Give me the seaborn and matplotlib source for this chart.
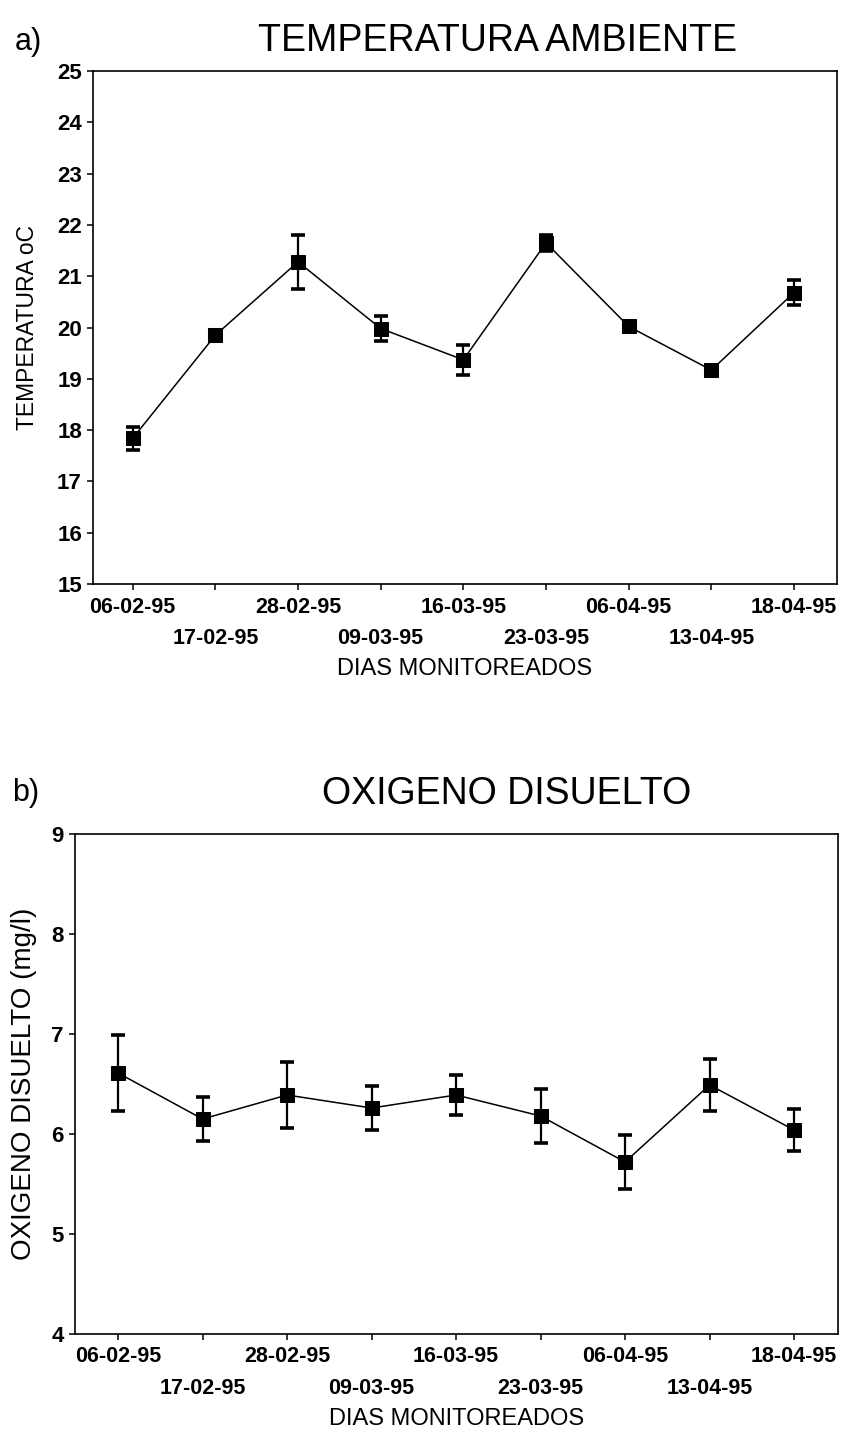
import numpy as np
import pandas as pd
import matplotlib
matplotlib.use("Agg")
import matplotlib.pyplot as plt
import seaborn as sns

# ---- data ----
dates = ["06-02-95", "17-02-95", "28-02-95", "09-03-95", "16-03-95",
         "23-03-95", "06-04-95", "13-04-95", "18-04-95"]
temp_mean = [17.84, 19.85, 21.28, 19.98, 19.37, 21.65, 20.02, 19.17, 20.68]
temp_err = [0.23, 0.05, 0.53, 0.25, 0.29, 0.15, 0.08, 0.05, 0.25]
oxy_mean = [6.61, 6.15, 6.39, 6.26, 6.39, 6.18, 5.72, 6.49, 6.04]
oxy_err = [0.38, 0.22, 0.33, 0.22, 0.20, 0.27, 0.27, 0.26, 0.21]
temp_ticks = list(range(15, 26))
oxy_ticks = list(range(4, 10))

sns.set_theme(style="ticks")
plt.rcParams['font.family'] = ['Liberation Sans', 'DejaVu Sans']

W, H = 842, 1436
fig = plt.figure(figsize=(W / 100, H / 100), dpi=100)
fig.patch.set_facecolor('white')

ax1 = fig.add_axes([93 / W, 1 - 584 / H, 744 / W, 513 / H])
ax2 = fig.add_axes([75 / W, 1 - 1334 / H, 763 / W, 500 / H])


def draw(ax, means, errs, ticks, ylabel, ylabel_size, ylabel_pad, xlim):
    df = pd.DataFrame({"idx": np.arange(len(dates)), "val": means, "err": errs})
    ax.errorbar(df["idx"], df["val"], yerr=df["err"], fmt='none', ecolor='black',
                elinewidth=1.6, capsize=5, capthick=2.6, zorder=2)
    sns.lineplot(data=df, x="idx", y="val", ax=ax, color='black', linewidth=1.1,
                 marker='s', markersize=10, markeredgecolor='black',
                 markerfacecolor='black', zorder=3)
    ax.set_facecolor('white')
    ax.set_xlim(*xlim)
    ax.set_ylim(ticks[0], ticks[-1])
    ax.set_yticks(ticks)
    ax.set_yticklabels([str(t) for t in ticks], fontsize=16, fontweight='bold')
    ax.set_xticks(df["idx"])
    ax.set_xticklabels(dates, fontsize=15.5, fontweight='bold')
    for sp in ax.spines.values():
        sp.set_color('black')
        sp.set_linewidth(1.2)
        sp.set_visible(True)
    ax.tick_params(axis='both', direction='out', length=4, width=1.1,
                   colors='black', pad=4)
    for i, t in enumerate(ax.xaxis.get_major_ticks()):
        t.set_pad(5 if i % 2 == 0 else 28)
    ax.set_ylabel(ylabel, fontsize=ylabel_size, color='black', labelpad=ylabel_pad)
    ax.set_xlabel("DIAS MONITOREADOS", fontsize=17, color='black', labelpad=6)
    ax.grid(False)


draw(ax1, temp_mean, temp_err, temp_ticks, "TEMPERATURA oC", 16.5, 13, (-0.48, 8.52))
draw(ax2, oxy_mean, oxy_err, oxy_ticks, "OXIGENO DISUELTO (mg/l)", 20, 10, (-0.51, 8.52))

fig.text(497 / W, 1 - 51 / H, "TEMPERATURA AMBIENTE", fontsize=27,
         ha='center', va='baseline', color='black')
fig.text(15 / W, 1 - 50 / H, "a)", fontsize=22, ha='left', va='baseline', color='black')
fig.text(507 / W, 1 - 804 / H, "OXIGENO DISUELTO", fontsize=27,
         ha='center', va='baseline', color='black')
fig.text(12 / W, 1 - 801 / H, "b)", fontsize=22, ha='left', va='baseline', color='black')

fig.savefig("out.png", dpi=100, facecolor='white')
